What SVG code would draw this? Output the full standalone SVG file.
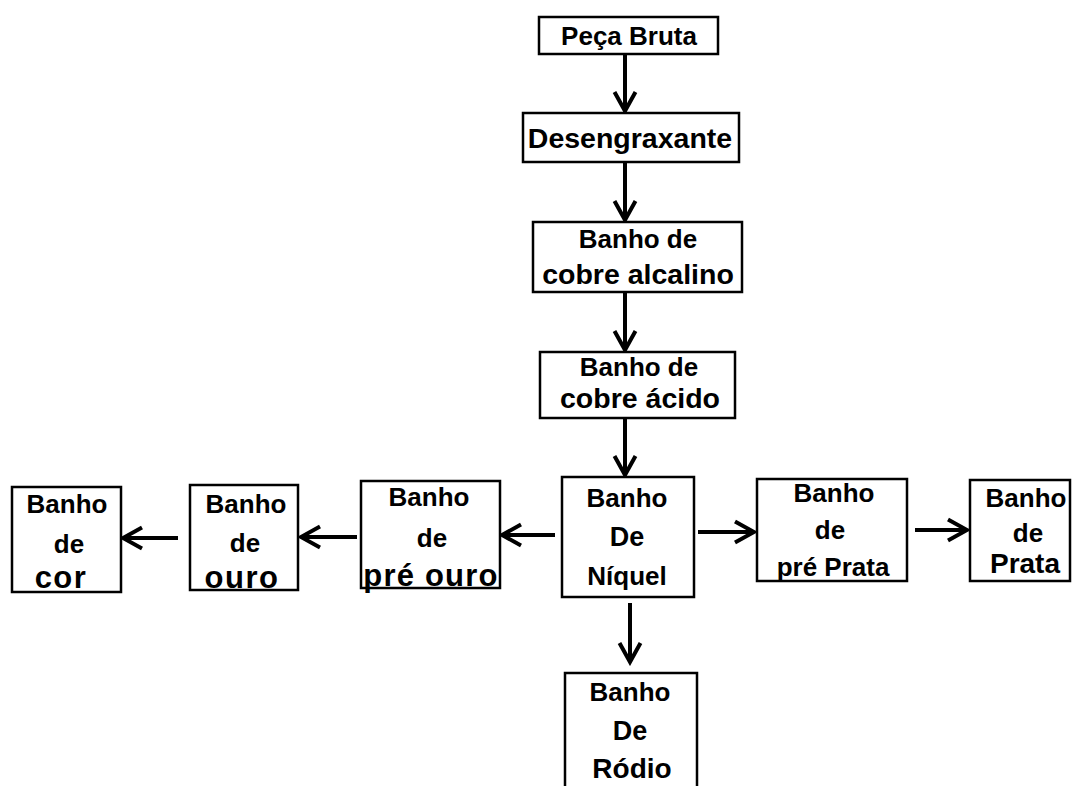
<svg xmlns="http://www.w3.org/2000/svg" width="1072" height="786" viewBox="0 0 1072 786">
<defs>
<marker id="ah" viewBox="0 0 26 26" refX="22" refY="13" markerWidth="26" markerHeight="26" markerUnits="userSpaceOnUse" orient="auto">
<path d="M3,2.5 L22,13 L3,23.5" fill="none" stroke="#000" stroke-width="4"/>
</marker>
<style>
.box{fill:#fff;stroke:#000;stroke-width:2.5}
.t{font-family:"Liberation Sans",Arial,sans-serif;font-weight:bold;font-size:26px;fill:#000;text-anchor:middle}
.w{font-size:31px;letter-spacing:1.5px}
.c{stroke:#000;stroke-width:4;fill:none;marker-end:url(#ah)}
</style>
</defs>
<rect width="1072" height="786" fill="#fff"/>
<g id="connectors">
<line class="c" x1="625" y1="54" x2="625" y2="111"/>
<line class="c" x1="625" y1="162" x2="625" y2="220"/>
<line class="c" x1="625" y1="292" x2="625" y2="350"/>
<line class="c" x1="625" y1="418" x2="625" y2="475"/>
<line class="c" x1="555" y1="535" x2="502" y2="535"/>
<line class="c" x1="357" y1="537" x2="301" y2="537"/>
<line class="c" x1="178" y1="538" x2="123" y2="538"/>
<line class="c" x1="698" y1="532" x2="754" y2="532"/>
<line class="c" x1="915" y1="530" x2="967" y2="530"/>
<line class="c" x1="630" y1="603" x2="630" y2="662"/>
</g>
<g id="peca-bruta">
<rect class="box" x="539" y="17" width="179" height="37"/>
<text class="t" x="629" y="45">Peça Bruta</text>
</g>
<g id="desengraxante">
<rect class="box" x="523" y="113" width="216" height="49"/>
<text class="t" x="630" y="148" style="font-size:28.5px">Desengraxante</text>
</g>
<g id="cobre-alcalino">
<rect class="box" x="533" y="222" width="209" height="70"/>
<text class="t" x="638" y="248">Banho de</text>
<text class="t" x="638" y="284" style="font-size:28.5px">cobre alcalino</text>
</g>
<g id="cobre-acido">
<rect class="box" x="540" y="352" width="195" height="66"/>
<text class="t" x="639" y="376">Banho de</text>
<text class="t" x="640" y="408" style="font-size:28.5px">cobre ácido</text>
</g>
<g id="niquel">
<rect class="box" x="562" y="477" width="132" height="120"/>
<text class="t" x="627" y="507">Banho</text>
<text class="t" x="627" y="546" style="font-size:27px">De</text>
<text class="t" x="627" y="585">Níquel</text>
</g>
<g id="pre-ouro">
<rect class="box" x="361" y="481" width="139" height="107"/>
<text class="t" x="429" y="506">Banho</text>
<text class="t" x="432" y="547">de</text>
<text class="t w" x="431" y="586" style="letter-spacing:1.2px">pré ouro</text>
</g>
<g id="ouro">
<rect class="box" x="190" y="485" width="108" height="105"/>
<text class="t" x="246" y="513">Banho</text>
<text class="t" x="245" y="552">de</text>
<text class="t w" x="242" y="588">ouro</text>
</g>
<g id="cor">
<rect class="box" x="12" y="487" width="109" height="105"/>
<text class="t" x="67" y="513">Banho</text>
<text class="t" x="69" y="553">de</text>
<text class="t w" x="61" y="588">cor</text>
</g>
<g id="pre-prata">
<rect class="box" x="757" y="479" width="150" height="102"/>
<text class="t" x="834" y="502">Banho</text>
<text class="t" x="830" y="539">de</text>
<text class="t" x="833" y="576">pré Prata</text>
</g>
<g id="prata">
<rect class="box" x="970" y="480" width="100" height="101"/>
<text class="t" x="1026" y="507">Banho</text>
<text class="t" x="1028" y="542">de</text>
<text class="t" x="1025" y="573" style="font-size:28px">Prata</text>
</g>
<g id="rodio">
<rect class="box" x="565" y="673" width="132" height="130"/>
<text class="t" x="630" y="701">Banho</text>
<text class="t" x="630" y="740" style="font-size:27px">De</text>
<text class="t" x="632" y="778" style="font-size:28px">Ródio</text>
</g>
</svg>
